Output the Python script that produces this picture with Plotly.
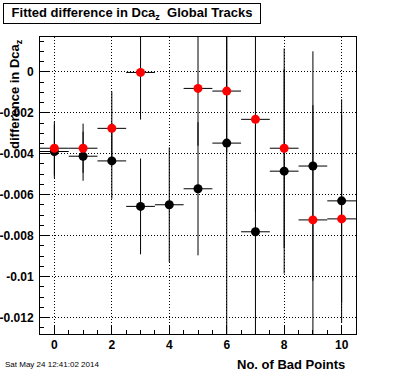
import plotly.graph_objects as go

# Data
x_black = [0, 1, 2, 3, 4, 5, 6, 7, 8, 9, 10]
y_black = [-0.00389, -0.00412, -0.00435, -0.00657, -0.00649, -0.00571,
           -0.00348, -0.00781, -0.00485, -0.00460, -0.00630]
ey_black = [0.0013, 0.0012, 0.00185, 0.00234, 0.0028, 0.00325,
            0.0095, 0.0052, 0.0050, 0.0056, 0.00496]

x_red = [0, 1, 2, 3, 5, 6, 7, 8, 9, 10]
y_red = [-0.00373, -0.00373, -0.00276, -0.00003, -0.00081, -0.00094,
         -0.00232, -0.00373, -0.00723, -0.00718]
ey_red = [0.0013, 0.0012, 0.0018, 0.0023, 0.0028, 0.0030,
          0.0045, 0.00487, 0.0056, 0.00506]

ex_half = 0.5

x_ticks = [0, 2, 4, 6, 8, 10]
y_ticks = [0, -0.002, -0.004, -0.006, -0.008, -0.01, -0.012]
y_tick_labels = ["0", "-0.002", "-0.004", "-0.006", "-0.008", "-0.01", "-0.012"]

title_text = "Fitted difference in Dca<sub>z</sub>  Global Tracks"
ytitle_text = "difference in Dca<sub>z</sub>"
xtitle_text = "No. of Bad Points"
date_text = "Sat May 24 12:41:02 2014"

W, H = 396, 372
L, R, T, B = 40, 40, 37, 38
PW, PH = W - L - R, H - T - B

def px(xp):
    return (xp - L) / PW

def py(yp):
    return (H - B - yp) / PH

FONT = "Liberation Sans"

fig = go.Figure()
for xs, ys, es, col in [(x_black, y_black, ey_black, "#000000"),
                        (x_red, y_red, ey_red, "#ff0000")]:
    fig.add_trace(go.Scatter(
        x=xs, y=ys, mode="markers",
        marker=dict(symbol="circle", size=9, color=col, line=dict(width=0)),
        error_y=dict(type="data", array=es, visible=True, color="#000000",
                     thickness=1, width=0),
        error_x=dict(type="constant", value=ex_half, visible=True,
                     color="#000000", thickness=1, width=0),
        showlegend=False, cliponaxis=True, hoverinfo="skip",
    ))

axis_common = dict(
    showline=True, linecolor="black", linewidth=1, mirror=True,
    ticks="inside", ticklen=9, tickcolor="black", tickwidth=1,
    showgrid=True, gridcolor="black", gridwidth=1, griddash="1px,2px",
    zeroline=False, automargin=False,
    tickfont=dict(family=FONT, size=12, color="black", weight="bold"),
)

fig.update_xaxes(
    range=[-0.5, 10.5], tickmode="array", tickvals=x_ticks,
    ticktext=[str(v) for v in x_ticks],
    minor=dict(dtick=0.5, tick0=0, ticks="inside", ticklen=4,
               tickcolor="black", showgrid=False),
    **axis_common,
)
fig.update_yaxes(
    range=[-0.0128, 0.0017], tickmode="array", tickvals=y_ticks,
    ticktext=y_tick_labels, ticklabelstandoff=3,
    minor=dict(dtick=0.0005, tick0=0, ticks="inside", ticklen=4,
               tickcolor="black", showgrid=False),
    **axis_common,
)

annotations = [
    dict(text=title_text, xref="paper", yref="paper",
         x=px(3), y=py(3), xanchor="left", yanchor="top",
         width=256, height=19, borderpad=0, borderwidth=1,
         bordercolor="black", bgcolor="white", align="center", valign="middle",
         showarrow=False,
         font=dict(family=FONT, size=13, color="black", weight="bold")),
    dict(text=ytitle_text, xref="paper", yref="paper",
         x=px(15), y=py(37), xanchor="center", yanchor="top",
         textangle=-90, showarrow=False,
         font=dict(family=FONT, size=13, color="black", weight="bold")),
    dict(text=xtitle_text, xref="paper", yref="paper",
         x=px(347), y=py(364), xanchor="right", yanchor="middle",
         showarrow=False,
         font=dict(family=FONT, size=13, color="black", weight="bold")),
    dict(text=date_text, xref="paper", yref="paper",
         x=px(3), y=py(364), xanchor="left", yanchor="middle",
         showarrow=False,
         font=dict(family=FONT, size=8, color="black")),
]

fig.update_layout(
    width=W, height=H,
    margin=dict(l=L, r=R, t=T, b=B, pad=0),
    paper_bgcolor="white", plot_bgcolor="white",
    annotations=annotations,
    showlegend=False, hovermode=False,
)

fig.write_html(
    "out.html",
    config={"displayModeBar": False},
    post_script="document.body.style.margin='0';document.body.style.overflow='hidden';",
)
